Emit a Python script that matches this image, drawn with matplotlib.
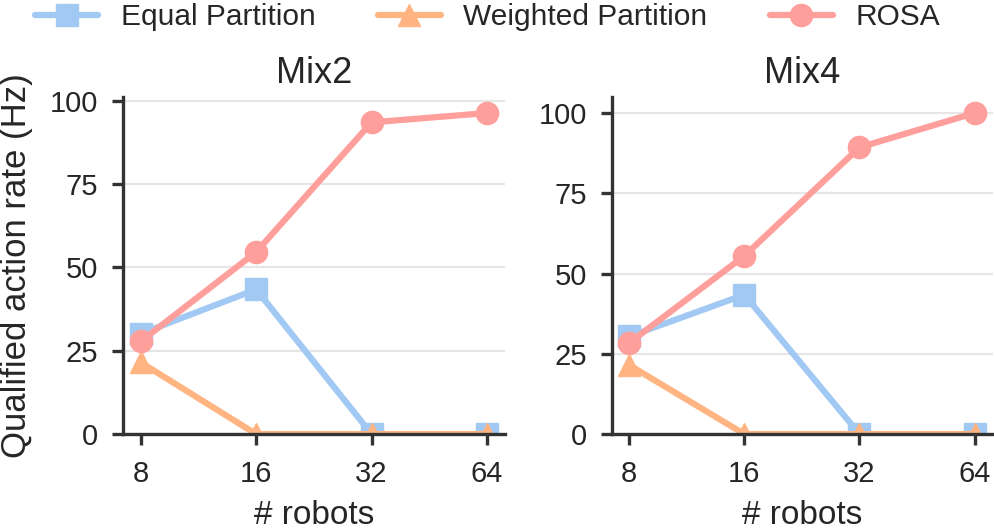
import numpy as np
import matplotlib
matplotlib.use("Agg")
import matplotlib.pyplot as plt

plt.rcParams['font.family'] = ['Liberation Sans', 'DejaVu Sans']

# data
robots = ['8', '16', '32', '64']
titles = ['Mix2', 'Mix4']
equal = [[30.1, 43.4, 0, 0], [30.4, 43.4, 0, 0]]
weighted = [[21.5, 0, 0, 0], [21.5, 0, 0, 0]]
rosa = [[27.8, 54.6, 93.5, 96.3], [28.4, 55.5, 89.3, 100.0]]

colors = ['#a1c9f4', '#ffb482', '#ff9f9b']
names = ['Equal Partition', 'Weighted Partition', 'ROSA']
markers = ['s', '^', 'o']

fig = plt.figure(figsize=(9.95, 5.3), dpi=100)
axes = [fig.add_axes([0.124, 0.181, 0.384, 0.636]),
        fig.add_axes([0.615, 0.181, 0.383, 0.636])]

xpos = np.arange(len(robots))
for i, ax in enumerate(axes):
    series = [equal[i], weighted[i], rosa[i]]
    for s, c, m, n in zip(series, colors, markers, names):
        ax.plot(xpos, s, color=c, marker=m, markersize=16, linewidth=4.5,
                solid_capstyle='round', label=n)
    ymax = max(rosa[i]) * 1.05
    ax.set_ylim(0, ymax)
    ax.set_xlim(-0.15, 3.16)
    ax.set_yticks([0, 25, 50, 75, 100])
    ax.set_xticks(xpos)
    ax.set_xticklabels(robots)
    ax.grid(axis='y', color='#e6e6e6', linewidth=1.6)
    ax.set_axisbelow(True)
    for side in ['top', 'right']:
        ax.spines[side].set_visible(False)
    for side in ['left', 'bottom']:
        ax.spines[side].set_linewidth(2.4)
        ax.spines[side].set_color('#333333')
    ax.tick_params(axis='both', length=8, width=2.4, color='#333333',
                   labelsize=21, labelcolor='#262626')
    ax.tick_params(axis='x', pad=11)
    ax.tick_params(axis='y', pad=10)
    ax.set_title(titles[i], fontsize=26, color='#262626', pad=10)
    ax.set_xlabel('# robots', fontsize=24, color='#262626', labelpad=8)

axes[0].set_ylabel('Qualified action rate (Hz)', fontsize=25, color='#262626')
axes[0].yaxis.set_label_coords(-0.237, 0.5)

handles, labels = axes[0].get_legend_handles_labels()
fig.legend(handles, labels, loc='center', bbox_to_anchor=(0.49, 0.968), ncol=3,
           frameon=False, fontsize=21.5, handlelength=2.1, handletextpad=0.75,
           columnspacing=2.1, labelcolor='#262626')

fig.savefig('out.png', dpi=100)
